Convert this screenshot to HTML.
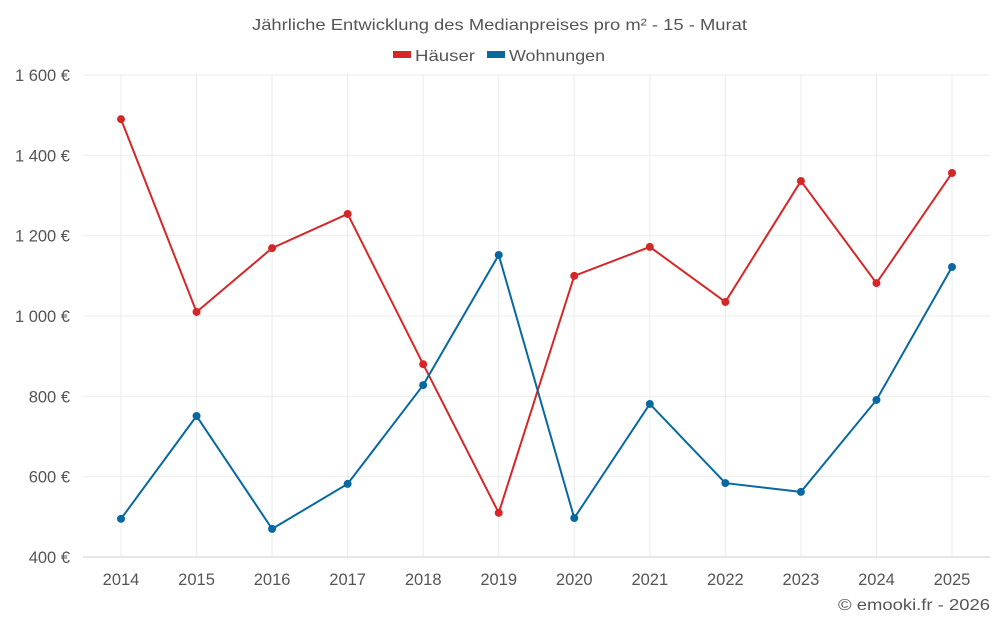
<!DOCTYPE html>
<html><head><meta charset="utf-8"><style>
body{margin:0;background:#fff;font-family:"Liberation Sans",sans-serif}
svg text{font-family:"Liberation Sans",sans-serif;fill:#555}
</style></head><body>
<svg id="c" width="1000" height="625">
<text x="252" y="30" font-size="16" textLength="495" lengthAdjust="spacingAndGlyphs">Jährliche Entwicklung des Medianpreises pro m² - 15 - Murat</text>
<g>
<rect x="393" y="51" width="18" height="7" fill="#d62728"/>
<text x="415" y="61" font-size="16" textLength="60" lengthAdjust="spacingAndGlyphs">Häuser</text>
<rect x="487" y="51" width="18" height="7" fill="#0868a0"/>
<text x="509" y="61" font-size="16" textLength="96" lengthAdjust="spacingAndGlyphs">Wohnungen</text>
</g>
<g id="grid"></g><g id="axes"></g><g id="series"></g>
<text x="838" y="610" font-size="16" textLength="152" lengthAdjust="spacingAndGlyphs">© emooki.fr - 2026</text>
</svg>
<script>
const years=[2014,2015,2016,2017,2018,2019,2020,2021,2022,2023,2024,2025];
const houses=[1490,1010,1169,1254,880,510,1100,1172,1035,1336,1082,1356];
const flats=[495,751,470,582,828,1152,497,781,584,562,791,1122];
const yTicks=[400,600,800,1000,1200,1400,1600];
const yTickLabels=["400 €","600 €","800 €","1 000 €","1 200 €","1 400 €","1 600 €"];
const NS="http://www.w3.org/2000/svg";
const L=83,R=990,T=75,B=557;
const x=i=>121+i*(952-121)/(years.length-1);
const y=v=>B-(v-400)/(1600-400)*(B-T);
function mk(tag,attrs,parent){const e=document.createElementNS(NS,tag);for(const k in attrs)e.setAttribute(k,attrs[k]);document.getElementById(parent).appendChild(e);return e;}
yTicks.forEach((t,i)=>{
 const g=mk('line',{x1:L,x2:R,y1:y(t),y2:y(t),stroke:i==0?'#ccc':'#ebebeb'},'grid');
 
 
 const tx=mk('text',{x:70,y:y(t)+6,'text-anchor':'end','font-size':16.5},'axes');tx.textContent=yTickLabels[i];
 
 
});
years.forEach((yr,i)=>{
 const g=mk('line',{x1:x(i),x2:x(i),y1:T,y2:B,stroke:'#ebebeb'},'grid');
 
 
 const tx=mk('text',{x:x(i),y:585,'text-anchor':'middle','font-size':16.5},'axes');tx.textContent=yr;
 
 
});
function series(vals,color,name){
 const p=mk('polyline',{points:vals.map((v,i)=>x(i)+','+y(v)).join(' '),fill:'none',stroke:color,'stroke-width':2},'series');
 
 
 vals.forEach((v,i)=>{const c=mk('circle',{cx:x(i),cy:y(v),r:4,fill:color},'series');
 
 });
}
series(houses,'#d62728','haeuser');
series(flats,'#0868a0','wohnungen');
</script>
</body></html>
